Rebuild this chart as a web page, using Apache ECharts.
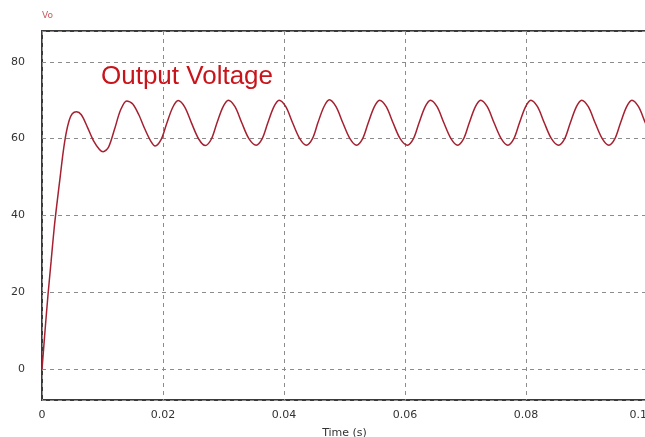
<!DOCTYPE html>
<html><head><meta charset="utf-8">
<script src="https://cdn.jsdelivr.net/npm/echarts@6/dist/echarts.min.js"></script>
<style>html,body{margin:0;padding:0;background:#fff}#c{width:645px;height:437px}</style>
</head><body><div id="c"></div>
<script>
// Time samples (s)
const timeS = [
  0, 0.0002, 0.0005, 0.0010, 0.0015, 0.0020, 0.0025, 0.0030, 0.0035, 0.0040, 0.0045, 0.0050, 0.0057,
  0.0065, 0.0075, 0.0085, 0.0095, 0.0101, 0.0110, 0.0120, 0.0130, 0.0140, 0.0150, 0.0160, 0.0170, 0.0180,
  0.0187, 0.0197, 0.0206, 0.0216, 0.0225, 0.0236, 0.0247, 0.0259,
  0.0270, 0.0280, 0.0289, 0.0299, 0.0308, 0.0319, 0.0330, 0.0342,
  0.0354, 0.0364, 0.0373, 0.0383, 0.0392, 0.0403, 0.0414, 0.0426,
  0.0437, 0.0447, 0.0456, 0.0466, 0.0475, 0.0486, 0.0497, 0.0509,
  0.0520, 0.0530, 0.0539, 0.0549, 0.0558, 0.0569, 0.0580, 0.0592,
  0.0604, 0.0614, 0.0623, 0.0633, 0.0642, 0.0653, 0.0664, 0.0676,
  0.0687, 0.0697, 0.0706, 0.0716, 0.0725, 0.0736, 0.0747, 0.0759,
  0.0770, 0.0780, 0.0789, 0.0799, 0.0808, 0.0819, 0.0830, 0.0842,
  0.0854, 0.0864, 0.0873, 0.0883, 0.0892, 0.0903, 0.0914, 0.0926,
  0.0937, 0.0947, 0.0956, 0.0966, 0.0975, 0.0986, 0.0997, 0.1009
];
// Output voltage Vo (V)
const vo = [
  0, 4, 10, 19.5, 28, 36.5, 43.5, 50, 56.5, 61.5, 64.8, 66.5, 67.0,
  66.2, 63.0, 59.5, 57.2, 56.6, 57.8, 62.5, 67.5, 69.8, 69.0, 66.2, 62.5, 59.3,
  58.1, 59.8, 63.9, 68.1, 69.9, 68.2, 64.1, 59.9,
  58.2, 59.9, 64.0, 68.2, 70.0, 68.3, 64.2, 60.0,
  58.3, 60.0, 64.0, 68.2, 70.0, 68.3, 64.2, 60.0,
  58.3, 60.0, 64.1, 68.3, 70.1, 68.3, 64.2, 60.0,
  58.3, 60.0, 64.0, 68.2, 70.0, 68.3, 64.2, 60.0,
  58.3, 60.0, 64.0, 68.2, 70.0, 68.3, 64.2, 60.0,
  58.3, 60.0, 64.0, 68.2, 70.0, 68.3, 64.2, 60.0,
  58.3, 60.0, 64.0, 68.2, 70.0, 68.3, 64.2, 60.0,
  58.3, 60.0, 64.0, 68.2, 70.0, 68.3, 64.2, 60.0,
  58.3, 60.0, 64.0, 68.2, 70.0, 68.3, 64.2, 60.0
];
const xRange = [0, 0.1];
const yRange = [-8, 88];

const chart = echarts.init(document.getElementById('c'), null, {renderer: 'canvas'});
const gridLine = {show: true, lineStyle: {color: '#8c8c8c', type: [4, 4], width: 1}};
const labelFont = {color: '#333', fontSize: 11, fontFamily: 'DejaVu Sans'};
chart.setOption({
  animation: false,
  backgroundColor: '#fff',
  grid: {left: 42, width: 605, top: 31, height: 369, outerBoundsMode: 'none', containLabel: false,
         show: true, borderColor: '#3a3a3a', borderWidth: 2},
  xAxis: {
    type: 'value', min: xRange[0], max: xRange[1], splitNumber: 5,
    name: 'Time (s)', nameLocation: 'middle', nameGap: 28,
    nameTextStyle: labelFont,
    axisLine: {show: false}, axisTick: {show: false},
    axisLabel: Object.assign({margin: 10, alignMaxLabel: 'right'}, labelFont),
    splitLine: gridLine
  },
  yAxis: {
    type: 'value', min: yRange[0], max: yRange[1], splitNumber: 5,
    axisLine: {show: false}, axisTick: {show: false},
    axisLabel: Object.assign({margin: 17, showMinLabel: false, showMaxLabel: false}, labelFont),
    splitLine: gridLine
  },
  series: [{
    type: 'line', data: timeS.map((t, i) => [t, vo[i]]),
    showSymbol: false, smooth: 0.3,
    lineStyle: {color: '#a52030', width: 1.5}
  }],
  graphic: [
    {type: 'text', left: 42, top: 11, style: {text: 'Vo', fill: '#c9595f', font: '9px "DejaVu Sans"'}},
    {type: 'text', left: 101, top: 64, style: {text: 'Output Voltage', fill: '#c8151b', font: '26px "Liberation Sans"'}}
  ]
});
</script></body></html>
